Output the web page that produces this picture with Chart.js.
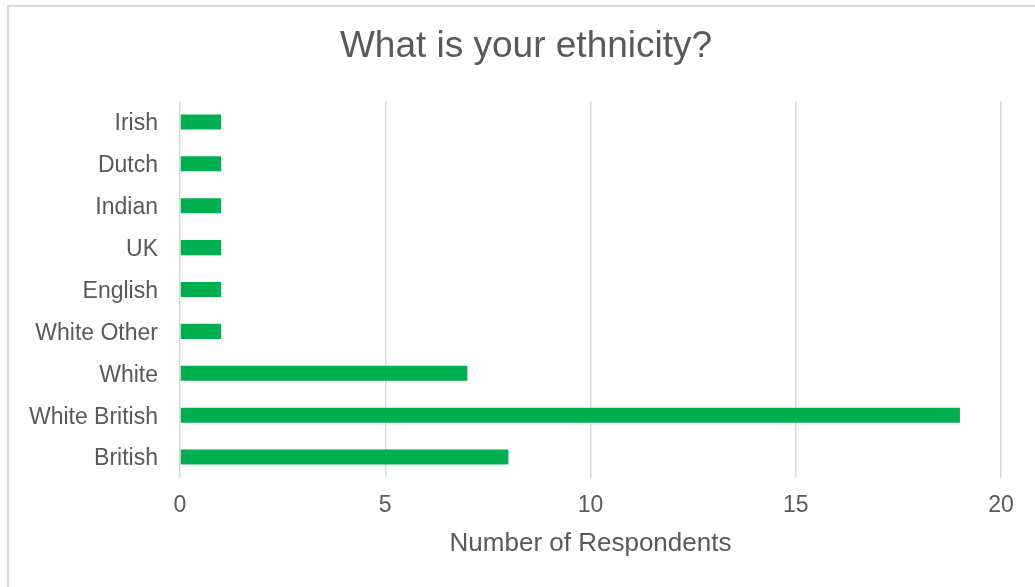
<!DOCTYPE html>
<html>
<head>
<meta charset="utf-8">
<script src="https://cdn.jsdelivr.net/npm/chart.js@4/dist/chart.umd.min.js"></script>
<style>
  html, body { margin: 0; padding: 0; background: #ffffff; }
  #wrap { width: 1035px; height: 587px; }
</style>
</head>
<body>
<div id="wrap"><canvas id="c" width="1035" height="587"></canvas></div>
<script>
const categories = ['Irish', 'Dutch', 'Indian', 'UK', 'English', 'White Other', 'White', 'White British', 'British'];
const respondents = [1, 1, 1, 1, 1, 1, 7, 19, 8];
const xTicks = [0, 5, 10, 15, 20];
const chartTitle = 'What is your ethnicity?';
const xAxisTitle = 'Number of Respondents';

const FONT = '"Liberation Sans", Arial, sans-serif';
const TEXT = '#595959';

const frame = {
  id: 'frame',
  beforeDraw(chart) {
    const ctx = chart.ctx;
    ctx.save();
    ctx.fillStyle = '#ffffff';
    ctx.fillRect(0, 0, chart.width, chart.height);
    ctx.strokeStyle = '#d9d9d9';
    ctx.lineWidth = 2;
    ctx.strokeRect(8, 6, chart.width + 50, chart.height + 50);
    ctx.fillStyle = TEXT;
    ctx.font = '37px ' + FONT;
    ctx.textAlign = 'center';
    ctx.textBaseline = 'middle';
    ctx.fillText(chartTitle, 526, 47);
    ctx.restore();
  }
};

new Chart(document.getElementById('c'), {
  type: 'bar',
  data: {
    labels: categories,
    datasets: [{
      data: respondents,
      backgroundColor: '#00B050',
      borderWidth: 0,
      categoryPercentage: 1,
      barPercentage: 0.36
    }]
  },
  plugins: [frame],
  options: {
    indexAxis: 'y',
    responsive: false,
    animation: false,
    devicePixelRatio: 1,
    layout: { padding: { left: 0, right: 34, top: 101, bottom: 0 } },
    plugins: {
      legend: { display: false },
      tooltip: { enabled: false },
      title: { display: false }
    },
    scales: {
      x: {
        min: 0,
        max: 20,
        afterBuildTicks(scale) { scale.ticks = xTicks.map(v => ({ value: v })); },
        afterFit(scale) { scale.height = 109; },
        grid: { color: '#d9d9d9', lineWidth: 1.5, drawTicks: false },
        border: { display: false },
        ticks: { color: TEXT, padding: 14, font: { family: FONT, size: 23 } },
        title: {
          display: true,
          text: xAxisTitle,
          color: TEXT,
          font: { family: FONT, size: 26 },
          padding: { top: 0, bottom: 28 }
        }
      },
      y: {
        afterFit(scale) { scale.width = 180; },
        grid: { display: false, drawTicks: false },
        border: { display: false },
        ticks: { color: TEXT, padding: 22, labelOffset: 2, font: { family: FONT, size: 23 } }
      }
    }
  }
});
</script>
</body>
</html>
